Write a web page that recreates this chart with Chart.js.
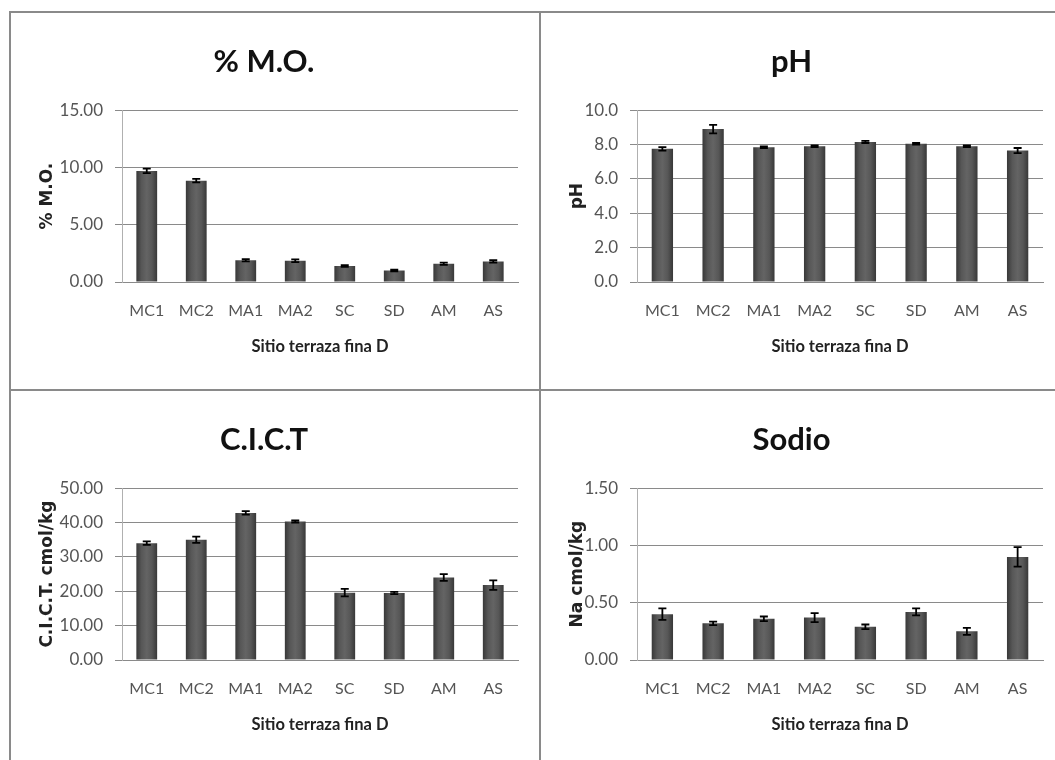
<!DOCTYPE html>
<html>
<head>
<meta charset="utf-8">
<script src="https://cdn.jsdelivr.net/npm/chart.js@4"></script>
<style>
  body { margin: 0; background: #fff; width: 1055px; height: 760px; overflow: hidden; position: relative; }
  canvas { position: absolute; }
  .line { position: absolute; background: #8a8a8a; }
</style>
</head>
<body>
<canvas id="moChart" width="530" height="378" style="left:10px;top:12px"></canvas>
<canvas id="phChart" width="515" height="378" style="left:540px;top:12px"></canvas>
<canvas id="cictChart" width="530" height="370" style="left:10px;top:390px"></canvas>
<canvas id="naChart" width="515" height="370" style="left:540px;top:390px"></canvas>

<div class="line" style="left:9px;top:11px;width:1046px;height:2px"></div>
<div class="line" style="left:9px;top:11px;width:2px;height:749px"></div>
<div class="line" style="left:539px;top:11px;width:2px;height:749px"></div>
<div class="line" style="left:9px;top:389px;width:1046px;height:2px"></div>

<script>
const sites = ["MC1", "MC2", "MA1", "MA2", "SC", "SD", "AM", "AS"];

const moValues = [9.7, 8.85, 1.9, 1.85, 1.4, 1.0, 1.6, 1.8];
const moErrors = [0.2, 0.15, 0.1, 0.12, 0.08, 0.08, 0.1, 0.1];

const phValues = [7.75, 8.9, 7.85, 7.9, 8.15, 8.05, 7.9, 7.65];
const phErrors = [0.1, 0.25, 0.05, 0.05, 0.06, 0.05, 0.05, 0.15];

const cictValues = [34.0, 35.0, 42.8, 40.3, 19.6, 19.5, 24.0, 21.8];
const cictErrors = [0.5, 0.9, 0.5, 0.3, 1.1, 0.3, 1.0, 1.4];

const naValues = [0.40, 0.32, 0.36, 0.37, 0.29, 0.42, 0.25, 0.90];
const naErrors = [0.05, 0.015, 0.02, 0.04, 0.02, 0.03, 0.03, 0.085];

const fontFamily = "Lato, 'Liberation Sans', sans-serif";
const yTitleFamily = "'DejaVu Sans', Verdana, sans-serif";

// error bars drawn from each dataset's "errors" array
const errorBarPlugin = {
  id: 'errorBars',
  afterDatasetsDraw(chart) {
    const ctx = chart.ctx;
    const yScale = chart.scales.y;
    chart.data.datasets.forEach((ds, di) => {
      const meta = chart.getDatasetMeta(di);
      meta.data.forEach((bar, i) => {
        const v = ds.data[i], e = ds.errors[i];
        const yTop = yScale.getPixelForValue(v + e);
        const yBot = yScale.getPixelForValue(v - e);
        ctx.save();
        ctx.strokeStyle = '#000';
        ctx.lineWidth = 1.8;
        ctx.beginPath();
        ctx.moveTo(bar.x, yTop);
        ctx.lineTo(bar.x, yBot);
        ctx.moveTo(bar.x - 4, yTop);
        ctx.lineTo(bar.x + 4, yTop);
        ctx.moveTo(bar.x - 4, yBot);
        ctx.lineTo(bar.x + 4, yBot);
        ctx.stroke();
        ctx.restore();
      });
    });
  }
};

function barShade(context) {
  const chart = context.chart;
  if (!chart.chartArea) return '#555';
  const xs = chart.scales.x;
  const cx = xs.getPixelForValue(context.dataIndex);
  const w = xs.width / sites.length * 0.42;
  const g = chart.ctx.createLinearGradient(cx - w / 2, 0, cx + w / 2, 0);
  g.addColorStop(0, '#383838');
  g.addColorStop(0.25, '#575757');
  g.addColorStop(0.5, '#646464');
  g.addColorStop(0.75, '#575757');
  g.addColorStop(1, '#383838');
  return g;
}

function makeChart(id, title, yTitle, values, errors, maxY, step, decimals, leftW, rightPad, canvasH) {
  return new Chart(document.getElementById(id), {
    type: 'bar',
    data: {
      labels: sites,
      datasets: [{
        data: values,
        errors: errors,
        backgroundColor: barShade,
        borderWidth: 0,
        categoryPercentage: 1,
        barPercentage: 0.42
      }]
    },
    options: {
      responsive: false,
      animation: false,
      layout: { padding: { left: 0, right: rightPad, top: 0, bottom: canvasH - 350 } },
      plugins: {
        legend: { display: false },
        tooltip: { enabled: false },
        title: {
          display: true,
          text: title,
          color: '#111',
          font: { family: fontFamily, size: 31, weight: 'bold', lineHeight: 1.2 },
          padding: { top: 31, bottom: 30 }
        }
      },
      scales: {
        x: {
          grid: { display: false, drawTicks: false },
          border: { display: true, color: '#8a8a8a', width: 1 },
          ticks: { color: '#555', padding: 19, font: { family: fontFamily, size: 16 } },
          title: {
            display: true,
            text: 'Sitio terraza fina D',
            color: '#222',
            font: { family: fontFamily, size: 16.5, weight: 'bold', lineHeight: 1.2 },
            padding: { top: 0, bottom: 5 }
          },
          afterFit: s => { s.height = 80; }
        },
        y: {
          min: 0,
          max: maxY,
          grid: { color: '#8a8a8a', tickLength: 7, drawTicks: true, tickColor: '#8a8a8a' },
          border: { display: true, color: '#b0b0b0', width: 1 },
          ticks: {
            stepSize: step,
            color: '#555',
            padding: 12,
            font: { family: fontFamily, size: 17 },
            callback: v => Number(v).toFixed(decimals)
          },
          title: {
            display: true,
            text: yTitle,
            color: '#222',
            font: { family: yTitleFamily, size: 17, weight: 'bold', lineHeight: 1.2 },
            padding: { top: 27, bottom: 0 }
          },
          afterFit: s => { s.width = leftW; }
        }
      }
    },
    plugins: [errorBarPlugin]
  });
}

makeChart('moChart', '% M.O.', '% M.O.', moValues, moErrors, 15, 5, 2, 112, 22, 378);
makeChart('phChart', 'pH', 'pH', phValues, phErrors, 10, 2, 1, 97, 12, 378);
makeChart('cictChart', 'C.I.C.T', 'C.I.C.T. cmol/kg', cictValues, cictErrors, 50, 10, 2, 112, 22, 370);
makeChart('naChart', 'Sodio', 'Na cmol/kg', naValues, naErrors, 1.5, 0.5, 2, 97, 12, 370);
</script>
</body>
</html>
